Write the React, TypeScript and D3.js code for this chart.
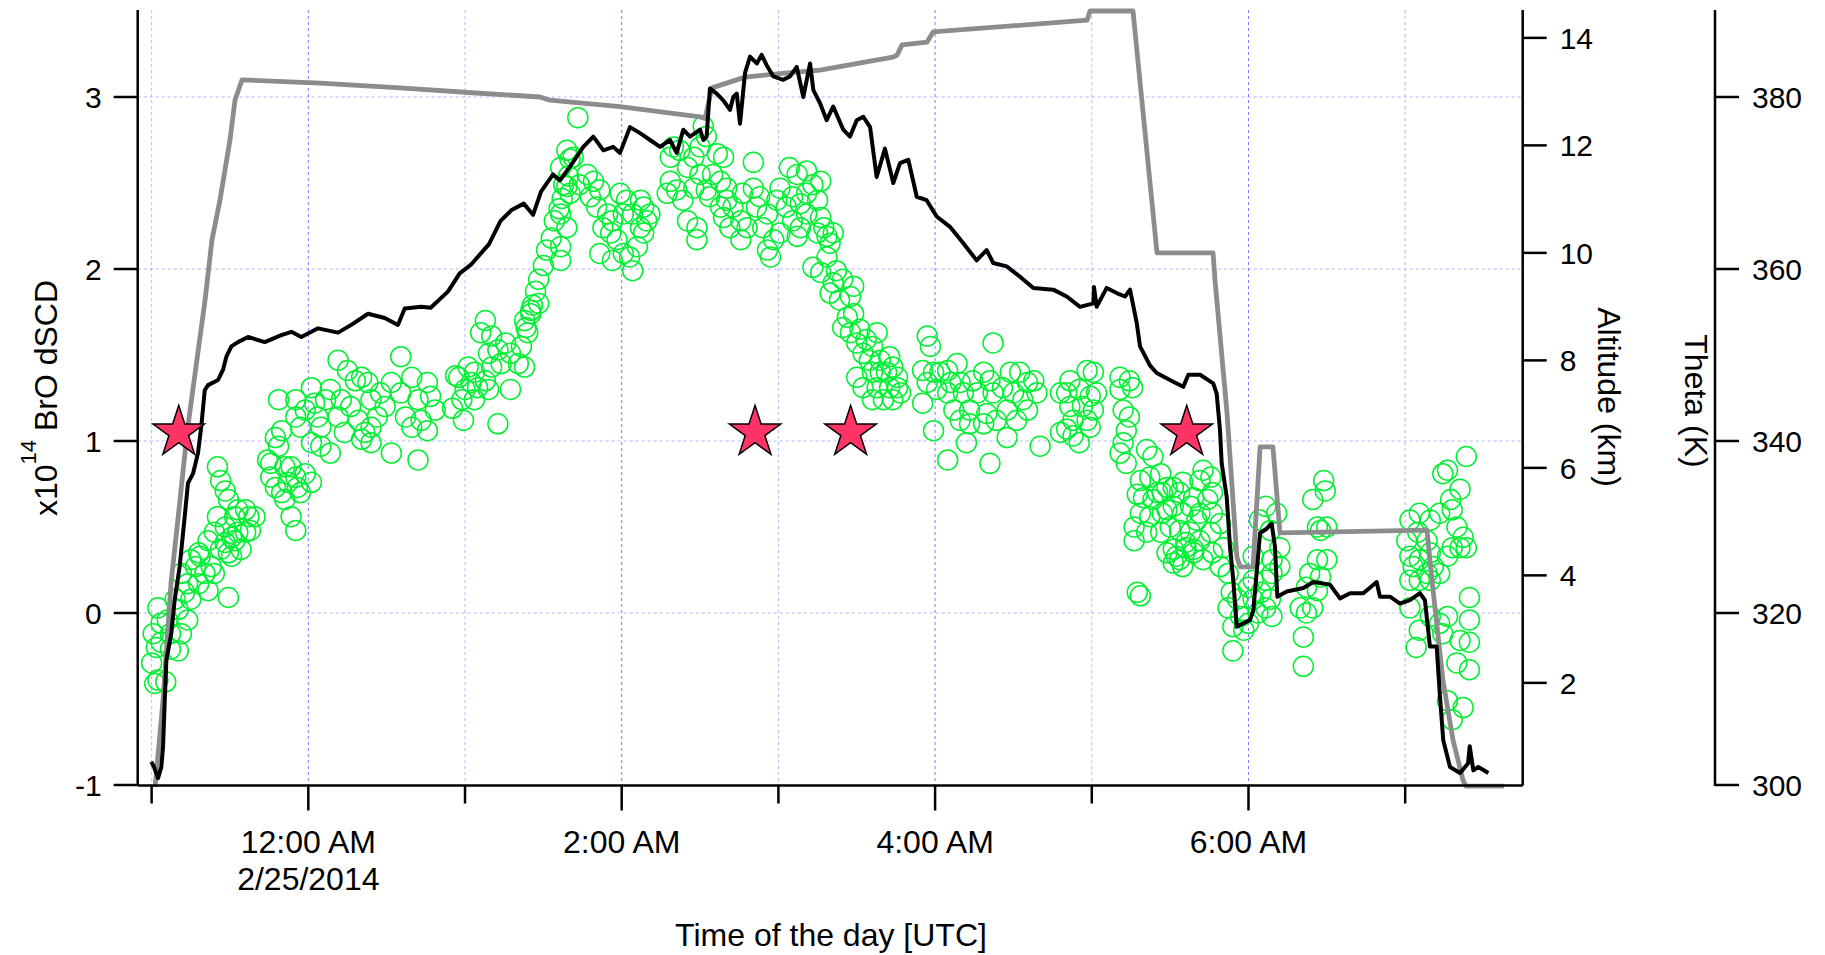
import * as d3 from "d3"

// time is decimal hours from 2014-02-25 00:00 UTC (negative = evening of 2/24)
// gray trace, GV altitude (km)
const altitude: [number, number][] = [
  [-0.978, 0.06], [-0.927, 1.68], [-0.876, 3.86], [-0.819, 5.4], [-0.774, 6.65], [-0.717, 7.88],
  [-0.659, 9.12], [-0.615, 10.24], [-0.564, 10.98], [-0.5, 12.1], [-0.468, 12.84], [-0.423, 13.22],
  [0.075, 13.16], [0.585, 13.07], [1.096, 12.97], [1.479, 12.9], [1.542, 12.84], [1.989, 12.72],
  [2.5, 12.53], [2.532, 12.5], [2.576, 13.07], [2.787, 13.27], [3.094, 13.36], [3.265, 13.4],
  [3.731, 13.64], [3.757, 13.68], [3.789, 13.87], [3.948, 13.92], [3.987, 14.11], [4.97, 14.33],
  [4.989, 14.5], [5.263, 14.5], [5.416, 10.0], [5.774, 10.0], [5.786, 9.5], [5.863, 7.02],
  [5.926, 4.34], [5.946, 4.16], [6.029, 4.16], [6.074, 6.39], [6.156, 6.39], [6.201, 4.79],
  [7.139, 4.84], [7.171, 3.91], [7.241, 2.05], [7.305, 0.94], [7.369, 0.19], [7.388, 0.08],
  [7.631, 0.08],
]

// black trace, potential temperature (K)
const theta: [number, number][] = [
  [-1.002, 302.7], [-0.985, 302.1], [-0.959, 300.8], [-0.938, 302.1], [-0.927, 304.5], [-0.916, 309.9],
  [-0.906, 314.5], [-0.874, 317.7], [-0.853, 321.5], [-0.821, 325.4], [-0.789, 331.2], [-0.768, 335.1],
  [-0.736, 336.2], [-0.704, 338.6], [-0.683, 341.7], [-0.661, 345.9], [-0.64, 346.5], [-0.576, 347.1],
  [-0.544, 348.3], [-0.523, 349.8], [-0.491, 351.0], [-0.449, 351.5], [-0.385, 352.1], [-0.278, 351.5],
  [-0.172, 352.3], [-0.108, 352.7], [-0.045, 352.1], [0.062, 353.1], [0.19, 352.6], [0.274, 353.5],
  [0.381, 354.8], [0.488, 354.3], [0.572, 353.5], [0.615, 355.4], [0.721, 355.6], [0.781, 355.5],
  [0.892, 357.4], [0.966, 359.5], [1.038, 360.5], [1.153, 362.9], [1.227, 365.6], [1.3, 366.9],
  [1.375, 367.6], [1.434, 366.3], [1.485, 369.0], [1.562, 371.0], [1.606, 370.3], [1.67, 371.9],
  [1.755, 374.2], [1.819, 375.4], [1.883, 373.8], [1.946, 374.2], [1.989, 373.5], [2.053, 376.5],
  [2.117, 375.8], [2.181, 375.0], [2.245, 374.2], [2.308, 375.0], [2.351, 373.5], [2.393, 376.2],
  [2.436, 375.4], [2.5, 376.2], [2.521, 375.0], [2.542, 375.4], [2.563, 381.0], [2.606, 380.4],
  [2.648, 379.6], [2.691, 378.5], [2.712, 380.0], [2.734, 380.4], [2.755, 376.9], [2.787, 382.8],
  [2.819, 384.7], [2.862, 383.9], [2.893, 384.9], [2.925, 383.7], [2.967, 382.4], [3.031, 382.0],
  [3.074, 382.4], [3.117, 383.5], [3.159, 380.0], [3.202, 383.9], [3.223, 380.8], [3.265, 379.3],
  [3.308, 377.3], [3.35, 378.9], [3.414, 376.2], [3.457, 375.4], [3.5, 377.3], [3.542, 377.7],
  [3.585, 376.5], [3.627, 370.7], [3.68, 374.0], [3.733, 370.0], [3.776, 372.3], [3.829, 372.7],
  [3.883, 368.4], [3.946, 368.0], [4.01, 366.1], [4.095, 364.9], [4.18, 363.0], [4.265, 361.0],
  [4.329, 362.2], [4.371, 360.7], [4.457, 360.3], [4.542, 359.1], [4.627, 357.8], [4.754, 357.6],
  [4.84, 356.8], [4.925, 355.6], [5.01, 356.0], [5.014, 357.9], [5.031, 355.6], [5.095, 357.8],
  [5.159, 357.2], [5.212, 356.8], [5.244, 357.6], [5.287, 353.7], [5.308, 351.0], [5.371, 348.8],
  [5.414, 347.9], [5.52, 346.9], [5.584, 346.3], [5.616, 347.7], [5.691, 347.7], [5.775, 346.7],
  [5.797, 345.5], [5.818, 341.3], [5.829, 337.4], [5.861, 333.5], [5.882, 327.7], [5.903, 323.8],
  [5.925, 318.4], [6.01, 319.2], [6.031, 320.3], [6.074, 329.3], [6.116, 329.8], [6.148, 330.4],
  [6.169, 327.7], [6.184, 321.9], [6.244, 322.5], [6.35, 322.9], [6.414, 323.6], [6.52, 323.3],
  [6.584, 321.7], [6.648, 322.3], [6.733, 322.3], [6.818, 323.6], [6.839, 321.9], [6.903, 321.9],
  [6.967, 321.1], [7.03, 321.5], [7.094, 322.3], [7.126, 321.5], [7.158, 316.1], [7.201, 316.1],
  [7.222, 310.3], [7.243, 305.2], [7.286, 302.1], [7.35, 301.4], [7.401, 302.5], [7.412, 304.5],
  [7.435, 301.7], [7.467, 302.1], [7.531, 301.4],
]

// green circles, BrO dSCD (x1e14)
const bro: [number, number][] = [
  // 23:00 - 23:40
  [-0.98, -0.41], [-0.96, -0.39], [-0.91, -0.4], [-0.99, -0.12], [-0.94, -0.17], [-0.88, -0.21],
  [-0.96, 0.03], [-0.9, -0.04], [-0.83, -0.22], [-0.81, -0.12], [-0.83, 0.02], [-0.77, -0.04],
  [-0.75, 0.08], [-0.77, 0.17], [-0.7, 0.17], [-0.72, 0.27], [-0.66, 0.23], [-0.69, 0.33],
  [-0.62, 0.27], [-0.51, 0.09], [-0.64, 0.42], [-0.6, 0.47], [-0.56, 0.37], [-0.49, 0.33],
  [-0.58, 0.56], [-0.53, 0.5], [-0.47, 0.42], [-0.43, 0.37], [-0.4, 0.47], [-0.38, 0.56],
  [-0.45, 0.6], [-0.51, 0.66], [-0.4, 0.6], [-0.53, 0.71], [-0.56, 0.77], [-0.58, 0.85],
  [-0.47, 0.56], [-0.49, 0.44], [-0.53, 0.41], [-0.6, 0.23], [-0.64, 0.13], [-0.79, 0.12],
  [-0.81, 0.23], [-0.85, 0.08], [-0.94, -0.06], [-0.88, -0.12], [-1.0, -0.29], [-0.97, -0.2],
  [-0.37, 0.48], [-0.34, 0.56], [-0.45, 0.47], [-0.51, 0.35], [-0.7, 0.35], [-0.75, 0.31],
  // 23:45 - 00:00
  [-0.24, 0.87], [-0.21, 1.02], [-0.17, 1.06], [-0.19, 0.97], [-0.26, 0.89], [-0.24, 0.79],
  [-0.21, 0.73], [-0.15, 0.85], [-0.13, 0.76], [-0.08, 0.79], [-0.07, 0.73], [-0.15, 0.66],
  [-0.11, 0.56], [-0.08, 0.48], [-0.17, 0.7], [-0.05, 0.7], [0.02, 0.76], [-0.02, 0.81],
  [-0.11, 0.85], [-0.19, 1.24], [-0.08, 1.24], [-0.08, 1.14], [-0.05, 1.08],
  // 00:00 - 00:50
  [0.02, 1.31], [0.04, 1.22], [0.06, 1.14], [0.02, 0.99], [0.08, 0.97], [0.14, 0.93],
  [0.11, 1.24], [0.19, 1.47], [0.25, 1.41], [0.14, 1.3], [0.21, 1.24], [0.3, 1.35],
  [0.34, 1.37], [0.38, 1.34], [0.27, 1.2], [0.32, 1.12], [0.36, 1.05], [0.4, 1.08],
  [0.44, 1.14], [0.49, 1.2], [0.53, 0.93], [0.59, 1.49], [0.53, 1.34], [0.59, 1.28],
  [0.66, 1.37], [0.7, 1.24], [0.76, 1.34], [0.78, 1.26], [0.81, 1.18], [0.72, 1.12],
  [0.66, 1.08], [0.62, 1.14], [0.76, 1.06], [0.7, 0.89], [0.4, 1.24], [0.46, 1.28],
  [0.19, 1.14], [0.23, 1.05], [0.4, 0.99], [0.34, 1.01], [0.08, 1.08], [-0.02, 1.18],
  // 00:55 - 01:40
  [0.94, 1.38], [0.92, 1.19], [0.96, 1.37], [1.02, 1.43], [1.0, 1.3], [0.98, 1.24],
  [0.99, 1.12], [1.06, 1.4], [1.08, 1.31], [1.13, 1.35], [1.17, 1.43], [1.15, 1.3],
  [1.21, 1.1], [1.29, 1.3], [1.13, 1.7], [1.1, 1.63], [1.17, 1.61], [1.21, 1.53],
  [1.26, 1.57], [1.29, 1.51], [1.34, 1.45], [1.38, 1.43], [1.36, 1.55], [1.4, 1.63],
  [1.38, 1.7], [1.42, 1.76], [1.47, 1.8], [1.15, 1.51], [1.23, 1.45], [1.06, 1.24],
  [1.04, 1.34], [1.39, 1.66], [1.42, 1.74], [1.43, 1.79], [1.45, 1.87], [1.47, 1.94],
  [1.5, 2.02], [1.52, 2.11], [1.55, 2.18], [1.57, 2.28], [1.6, 2.35], [1.62, 2.41],
  [1.65, 2.48], [1.66, 2.54], [1.67, 2.64],
  // 01:40 - 02:15
  [1.72, 2.88], [1.65, 2.69], [1.69, 2.65], [1.61, 2.59], [1.63, 2.49], [1.67, 2.44],
  [1.61, 2.32], [1.65, 2.24], [1.61, 2.13], [1.61, 2.05], [1.73, 2.49], [1.78, 2.55],
  [1.82, 2.51], [1.86, 2.46], [1.8, 2.42], [1.84, 2.36], [1.91, 2.32], [1.88, 2.24],
  [1.94, 2.28], [1.93, 2.21], [1.97, 2.17], [1.86, 2.09], [1.94, 2.05], [2.01, 2.09],
  [2.07, 1.99], [2.05, 2.07], [2.1, 2.13], [2.12, 2.24], [2.14, 2.36], [2.12, 2.4],
  [2.03, 2.4], [2.01, 2.32], [1.99, 2.44], [2.07, 2.32], [2.16, 2.28], [2.14, 2.21],
  [2.18, 2.32],
  // 02:15 - 03:20
  [2.31, 2.65], [2.33, 2.71], [2.37, 2.69], [2.31, 2.51], [2.35, 2.46], [2.29, 2.44],
  [2.42, 2.59], [2.46, 2.65], [2.5, 2.71], [2.52, 2.83], [2.54, 2.77], [2.5, 2.55],
  [2.46, 2.47], [2.39, 2.4], [2.42, 2.28], [2.48, 2.24], [2.48, 2.17], [2.54, 2.46],
  [2.58, 2.55], [2.61, 2.67], [2.65, 2.65], [2.63, 2.51], [2.56, 2.42], [2.67, 2.47],
  [2.63, 2.36], [2.67, 2.4], [2.71, 2.36], [2.65, 2.3], [2.69, 2.24], [2.76, 2.28],
  [2.76, 2.17], [2.8, 2.24], [2.77, 2.44], [2.84, 2.62], [2.84, 2.47], [2.88, 2.42],
  [2.86, 2.36], [2.93, 2.32], [2.9, 2.24], [2.97, 2.17], [2.93, 2.11], [2.95, 2.07],
  [3.01, 2.21], [2.99, 2.4], [3.01, 2.47], [3.07, 2.59], [3.12, 2.55], [3.18, 2.57],
  [3.09, 2.42], [3.05, 2.36], [3.09, 2.28], [3.14, 2.38], [3.18, 2.44], [3.22, 2.49],
  [3.27, 2.51], [3.25, 2.4], [3.18, 2.32], [3.12, 2.19], [3.14, 2.24], [3.27, 2.3],
  [3.29, 2.24], [3.31, 2.19], [3.35, 2.21], [3.33, 2.15], [3.25, 2.21],
  // 03:15 - 03:50
  [3.22, 2.01], [3.27, 1.98], [3.31, 2.07], [3.37, 1.99], [3.35, 1.92], [3.41, 1.94],
  [3.33, 1.86], [3.39, 1.82], [3.48, 1.9], [3.46, 1.84], [3.48, 1.74], [3.44, 1.72],
  [3.41, 1.66], [3.46, 1.63], [3.52, 1.65], [3.5, 1.57], [3.56, 1.59], [3.54, 1.51],
  [3.6, 1.55], [3.63, 1.63], [3.58, 1.47], [3.65, 1.47], [3.71, 1.49], [3.73, 1.43],
  [3.69, 1.4], [3.65, 1.4], [3.6, 1.4], [3.54, 1.31], [3.63, 1.31], [3.71, 1.31],
  [3.76, 1.31], [3.78, 1.28], [3.73, 1.24], [3.6, 1.24], [3.67, 1.24], [3.76, 1.37],
  [3.5, 1.37],
  // 03:55 - 04:50
  [3.95, 1.61], [3.97, 1.55], [4.37, 1.57], [3.92, 1.41], [3.99, 1.4], [3.95, 1.34],
  [4.03, 1.4], [4.08, 1.41], [4.1, 1.34], [4.01, 1.3], [4.08, 1.28], [4.16, 1.34],
  [4.14, 1.45], [4.18, 1.28], [4.24, 1.35], [4.27, 1.28], [4.31, 1.4], [4.35, 1.35],
  [4.37, 1.28], [4.43, 1.31], [4.48, 1.4], [4.54, 1.4], [4.59, 1.34], [4.63, 1.35],
  [4.65, 1.28], [4.5, 1.28], [4.56, 1.24], [4.46, 1.18], [4.33, 1.16], [4.22, 1.18],
  [4.16, 1.12], [4.12, 1.18], [4.22, 1.1], [4.31, 1.1], [4.39, 1.12], [4.52, 1.12],
  [4.59, 1.18], [3.99, 1.06], [3.92, 1.22], [4.08, 0.89], [4.2, 0.99], [4.35, 0.87],
  [4.46, 1.02], [4.67, 0.97], [4.8, 1.28], [4.8, 1.05],
  // 04:50 - 05:15
  [4.86, 1.35], [4.97, 1.41], [5.01, 1.4], [4.84, 1.28], [4.92, 1.3], [4.99, 1.26],
  [5.03, 1.28], [4.86, 1.2], [4.94, 1.2], [5.01, 1.18], [4.88, 1.12], [4.97, 1.12],
  [4.84, 1.07], [4.88, 1.03], [4.92, 0.99], [4.99, 1.08], [5.18, 1.37], [5.24, 1.35],
  [5.18, 1.3], [5.26, 1.31], [5.2, 1.18], [5.24, 1.14], [5.22, 1.06], [5.18, 0.93],
  [5.22, 0.87], [5.2, 0.99],
  // 05:15 - 06:15
  [5.35, 0.95], [5.39, 0.91], [5.31, 0.77], [5.37, 0.79], [5.44, 0.81], [5.33, 0.67],
  [5.39, 0.66], [5.45, 0.7], [5.52, 0.73], [5.58, 0.76], [5.65, 0.67], [5.31, 0.58],
  [5.37, 0.56], [5.45, 0.58], [5.52, 0.62], [5.58, 0.58], [5.63, 0.62], [5.67, 0.54],
  [5.35, 0.47], [5.44, 0.47], [5.5, 0.5], [5.56, 0.48], [5.63, 0.47], [5.27, 0.42],
  [5.48, 0.35], [5.54, 0.33], [5.6, 0.38], [5.52, 0.29], [5.58, 0.27], [5.65, 0.35],
  [5.29, 0.12], [5.31, 0.1], [5.29, 0.69], [5.27, 0.5], [5.42, 0.7], [5.48, 0.73],
  [5.56, 0.7], [5.48, 0.6], [5.69, 0.77], [5.71, 0.83], [5.76, 0.79], [5.69, 0.58],
  [5.74, 0.66], [5.77, 0.7], [5.77, 0.58], [5.82, 0.52], [5.76, 0.47], [5.69, 0.42],
  [5.6, 0.41], [5.52, 0.37], [5.56, 0.31], [5.65, 0.37], [5.71, 0.31], [5.77, 0.35],
  [5.84, 0.38], [5.82, 0.27], [5.87, 0.23], [5.89, 0.12], [5.87, 0.03], [5.93, 0.08],
  [5.95, -0.02], [5.9, -0.08], [5.97, -0.1], [5.9, -0.22], [6.0, 0.15], [6.03, 0.08],
  [6.03, 0.19], [6.08, 0.12], [6.06, 0.0], [6.0, -0.06], [6.11, 0.03], [6.15, -0.02],
  [6.14, 0.08], [6.11, 0.19], [6.15, 0.31], [6.2, 0.38], [6.14, 0.48], [6.18, 0.58],
  [6.11, 0.62], [6.07, 0.54], [6.15, 0.23], [6.2, 0.27], [6.03, 0.33],
  // 06:20 - 06:30
  [6.48, 0.77], [6.49, 0.71], [6.41, 0.66], [6.44, 0.5], [6.5, 0.5], [6.46, 0.48],
  [6.44, 0.31], [6.5, 0.31], [6.39, 0.23], [6.46, 0.21], [6.37, 0.15], [6.44, 0.13],
  [6.33, 0.03], [6.37, 0.0], [6.41, 0.03], [6.35, -0.14], [6.35, -0.31],
  // 07:00 - 07:25
  [7.03, 0.54], [7.09, 0.58], [7.16, 0.54], [7.22, 0.58], [7.24, 0.81], [7.27, 0.83],
  [7.39, 0.91], [7.35, 0.72], [7.29, 0.66], [7.3, 0.6], [7.33, 0.5], [7.37, 0.44],
  [7.35, 0.38], [7.39, 0.38], [7.3, 0.38], [7.01, 0.42], [7.08, 0.47], [7.14, 0.42],
  [7.03, 0.33], [7.09, 0.31], [7.16, 0.35], [7.05, 0.27], [7.14, 0.23], [7.18, 0.27],
  [7.03, 0.19], [7.09, 0.19], [7.16, 0.19], [7.22, 0.23], [7.27, 0.33], [7.03, 0.03],
  [7.09, -0.1], [7.07, -0.2], [7.16, -0.02], [7.22, -0.06], [7.24, -0.12], [7.27, -0.02],
  [7.41, 0.09], [7.41, -0.04], [7.35, -0.16], [7.41, -0.17], [7.33, -0.29], [7.41, -0.33],
  [7.27, -0.51], [7.37, -0.55], [7.3, -0.62],
]

// stars marking selected spectra
const starHours = [-0.827, 2.851, 3.461, 5.606]
const starValue = 1.05

const leftTicks = [-1, 0, 1, 2, 3]
const altTicks = [2, 4, 6, 8, 10, 12, 14]
const thetaTicks = [300, 320, 340, 360, 380]

const FONT = '"Liberation Sans", Arial, Helvetica, sans-serif'
const t0 = Date.UTC(2014, 1, 25)
const toDate = (h: number) => new Date(t0 + h * 3600000)

export default function App() {
  const W = 1825
  const H = 955
  const left = 137.7
  const right = 1522.7
  const top = 10
  const bottom = 785.5
  const thetaX = 1715

  const x = d3
    .scaleUtc()
    .domain([new Date(Date.UTC(2014, 1, 24, 22, 54, 40)), new Date(Date.UTC(2014, 1, 25, 7, 45, 0))])
    .range([left, right])
  const yL = d3.scaleLinear().domain([-1, 3.5]).range([785, 11])
  const yA = d3.scaleLinear().domain([0.1, 14.5]).range([785, 11])
  const yT = d3.scaleLinear().domain([300, 390]).range([785, 11])

  const hours = x.ticks(d3.utcHour.every(1)!)
  const fmtTime = d3.utcFormat("%-I:%M %p")
  const fmtDate = d3.utcFormat("%-m/%-d/%Y")

  const altLine = d3
    .line<[number, number]>()
    .x((d) => x(toDate(d[0])))
    .y((d) => yA(d[1]))
  const thetaLine = d3
    .line<[number, number]>()
    .x((d) => x(toDate(d[0])))
    .y((d) => yT(d[1]))
  const star = d3.symbol().type(d3.symbolStar).size(820)()

  return (
    <svg
      width={W}
      height={H}
      viewBox={`0 0 ${W} ${H}`}
      style={{ position: "absolute", left: 0, top: 0, background: "#fff" }}
      fontFamily={FONT}
    >
      {/* grid */}
      {leftTicks
        .filter((v) => v > -1)
        .map((v) => (
          <line key={`hg${v}`} x1={left} x2={right} y1={yL(v)} y2={yL(v)}
            stroke="#b4b4ff" strokeWidth={1} strokeDasharray="3 3" />
        ))}
      {hours.map((d) => {
        const major = d.getUTCHours() % 2 === 0
        return (
          <line key={`vg${+d}`} x1={x(d)} x2={x(d)} y1={top} y2={bottom}
            stroke={major ? "#7c7cff" : "#b4b4ff"} strokeWidth={1} strokeDasharray="3 3" />
        )
      })}

      {/* BrO circles */}
      <g fill="none" stroke="#00f032" strokeWidth={1.5}>
        {bro.map((d, i) => (
          <circle key={i} cx={x(toDate(d[0]))} cy={yL(d[1])} r={10} />
        ))}
      </g>

      <path d={altLine(altitude) ?? ""} fill="none" stroke="#8c8c8c" strokeWidth={4.8} strokeLinejoin="round" />
      <path d={thetaLine(theta) ?? ""} fill="none" stroke="#000" strokeWidth={4} strokeLinejoin="round" />

      {starHours.map((h) => (
        <path key={h} d={star ?? ""} transform={`translate(${x(toDate(h))},${yL(starValue)})`}
          fill="#ff3366" stroke="#000" strokeWidth={1.5} strokeLinejoin="miter" />
      ))}

      {/* left axis */}
      <g stroke="#000" strokeWidth={2.5}>
        <line x1={left} x2={left} y1={top} y2={bottom} />
        {leftTicks.map((v) => (
          <line key={v} x1={left - 24} x2={left} y1={yL(v)} y2={yL(v)} />
        ))}
      </g>
      {leftTicks.map((v) => (
        <text key={v} x={left - 36} y={yL(v)} dy="0.36em" textAnchor="end" fontSize={30}>
          {v}
        </text>
      ))}
      <text transform={`translate(57,398) rotate(-90)`} textAnchor="middle" fontSize={32}>
        x10
        <tspan fontSize={22} dy={-21}>14</tspan>
        <tspan dy={21}> BrO dSCD</tspan>
      </text>

      {/* bottom axis */}
      <g stroke="#000" strokeWidth={2.5}>
        <line x1={left} x2={right} y1={bottom} y2={bottom} />
        {hours.map((d) => {
          const major = d.getUTCHours() % 2 === 0
          return <line key={+d} x1={x(d)} x2={x(d)} y1={bottom} y2={bottom + (major ? 25 : 18)} />
        })}
      </g>
      {hours
        .filter((d) => d.getUTCHours() % 2 === 0)
        .map((d) => (
          <text key={+d} x={x(d)} y={853} textAnchor="middle" fontSize={32}>
            {fmtTime(d)}
            {d.getUTCHours() === 0 && (
              <tspan x={x(d)} dy={37}>
                {fmtDate(d)}
              </tspan>
            )}
          </text>
        ))}
      <text x={831} y={946} textAnchor="middle" fontSize={32}>
        Time of the day [UTC]
      </text>

      {/* altitude axis */}
      <g stroke="#000" strokeWidth={2.5}>
        <line x1={right} x2={right} y1={top} y2={bottom} />
        {altTicks.map((v) => (
          <line key={v} x1={right} x2={right + 24} y1={yA(v)} y2={yA(v)} />
        ))}
      </g>
      {altTicks.map((v) => (
        <text key={v} x={right + 37} y={yA(v)} dy="0.36em" fontSize={30}>
          {v}
        </text>
      ))}
      <text transform={`translate(1598,397) rotate(90)`} textAnchor="middle" fontSize={32}>
        Altitude (km)
      </text>

      {/* theta axis */}
      <g stroke="#000" strokeWidth={2.5}>
        <line x1={thetaX} x2={thetaX} y1={top} y2={yT(300) + 1} />
        {thetaTicks.map((v) => (
          <line key={v} x1={thetaX} x2={thetaX + 24} y1={yT(v)} y2={yT(v)} />
        ))}
      </g>
      {thetaTicks.map((v) => (
        <text key={v} x={thetaX + 37} y={yT(v)} dy="0.36em" fontSize={30}>
          {v}
        </text>
      ))}
      <text transform={`translate(1685,401) rotate(90)`} textAnchor="middle" fontSize={32}>
        Theta (K)
      </text>
    </svg>
  )
}
